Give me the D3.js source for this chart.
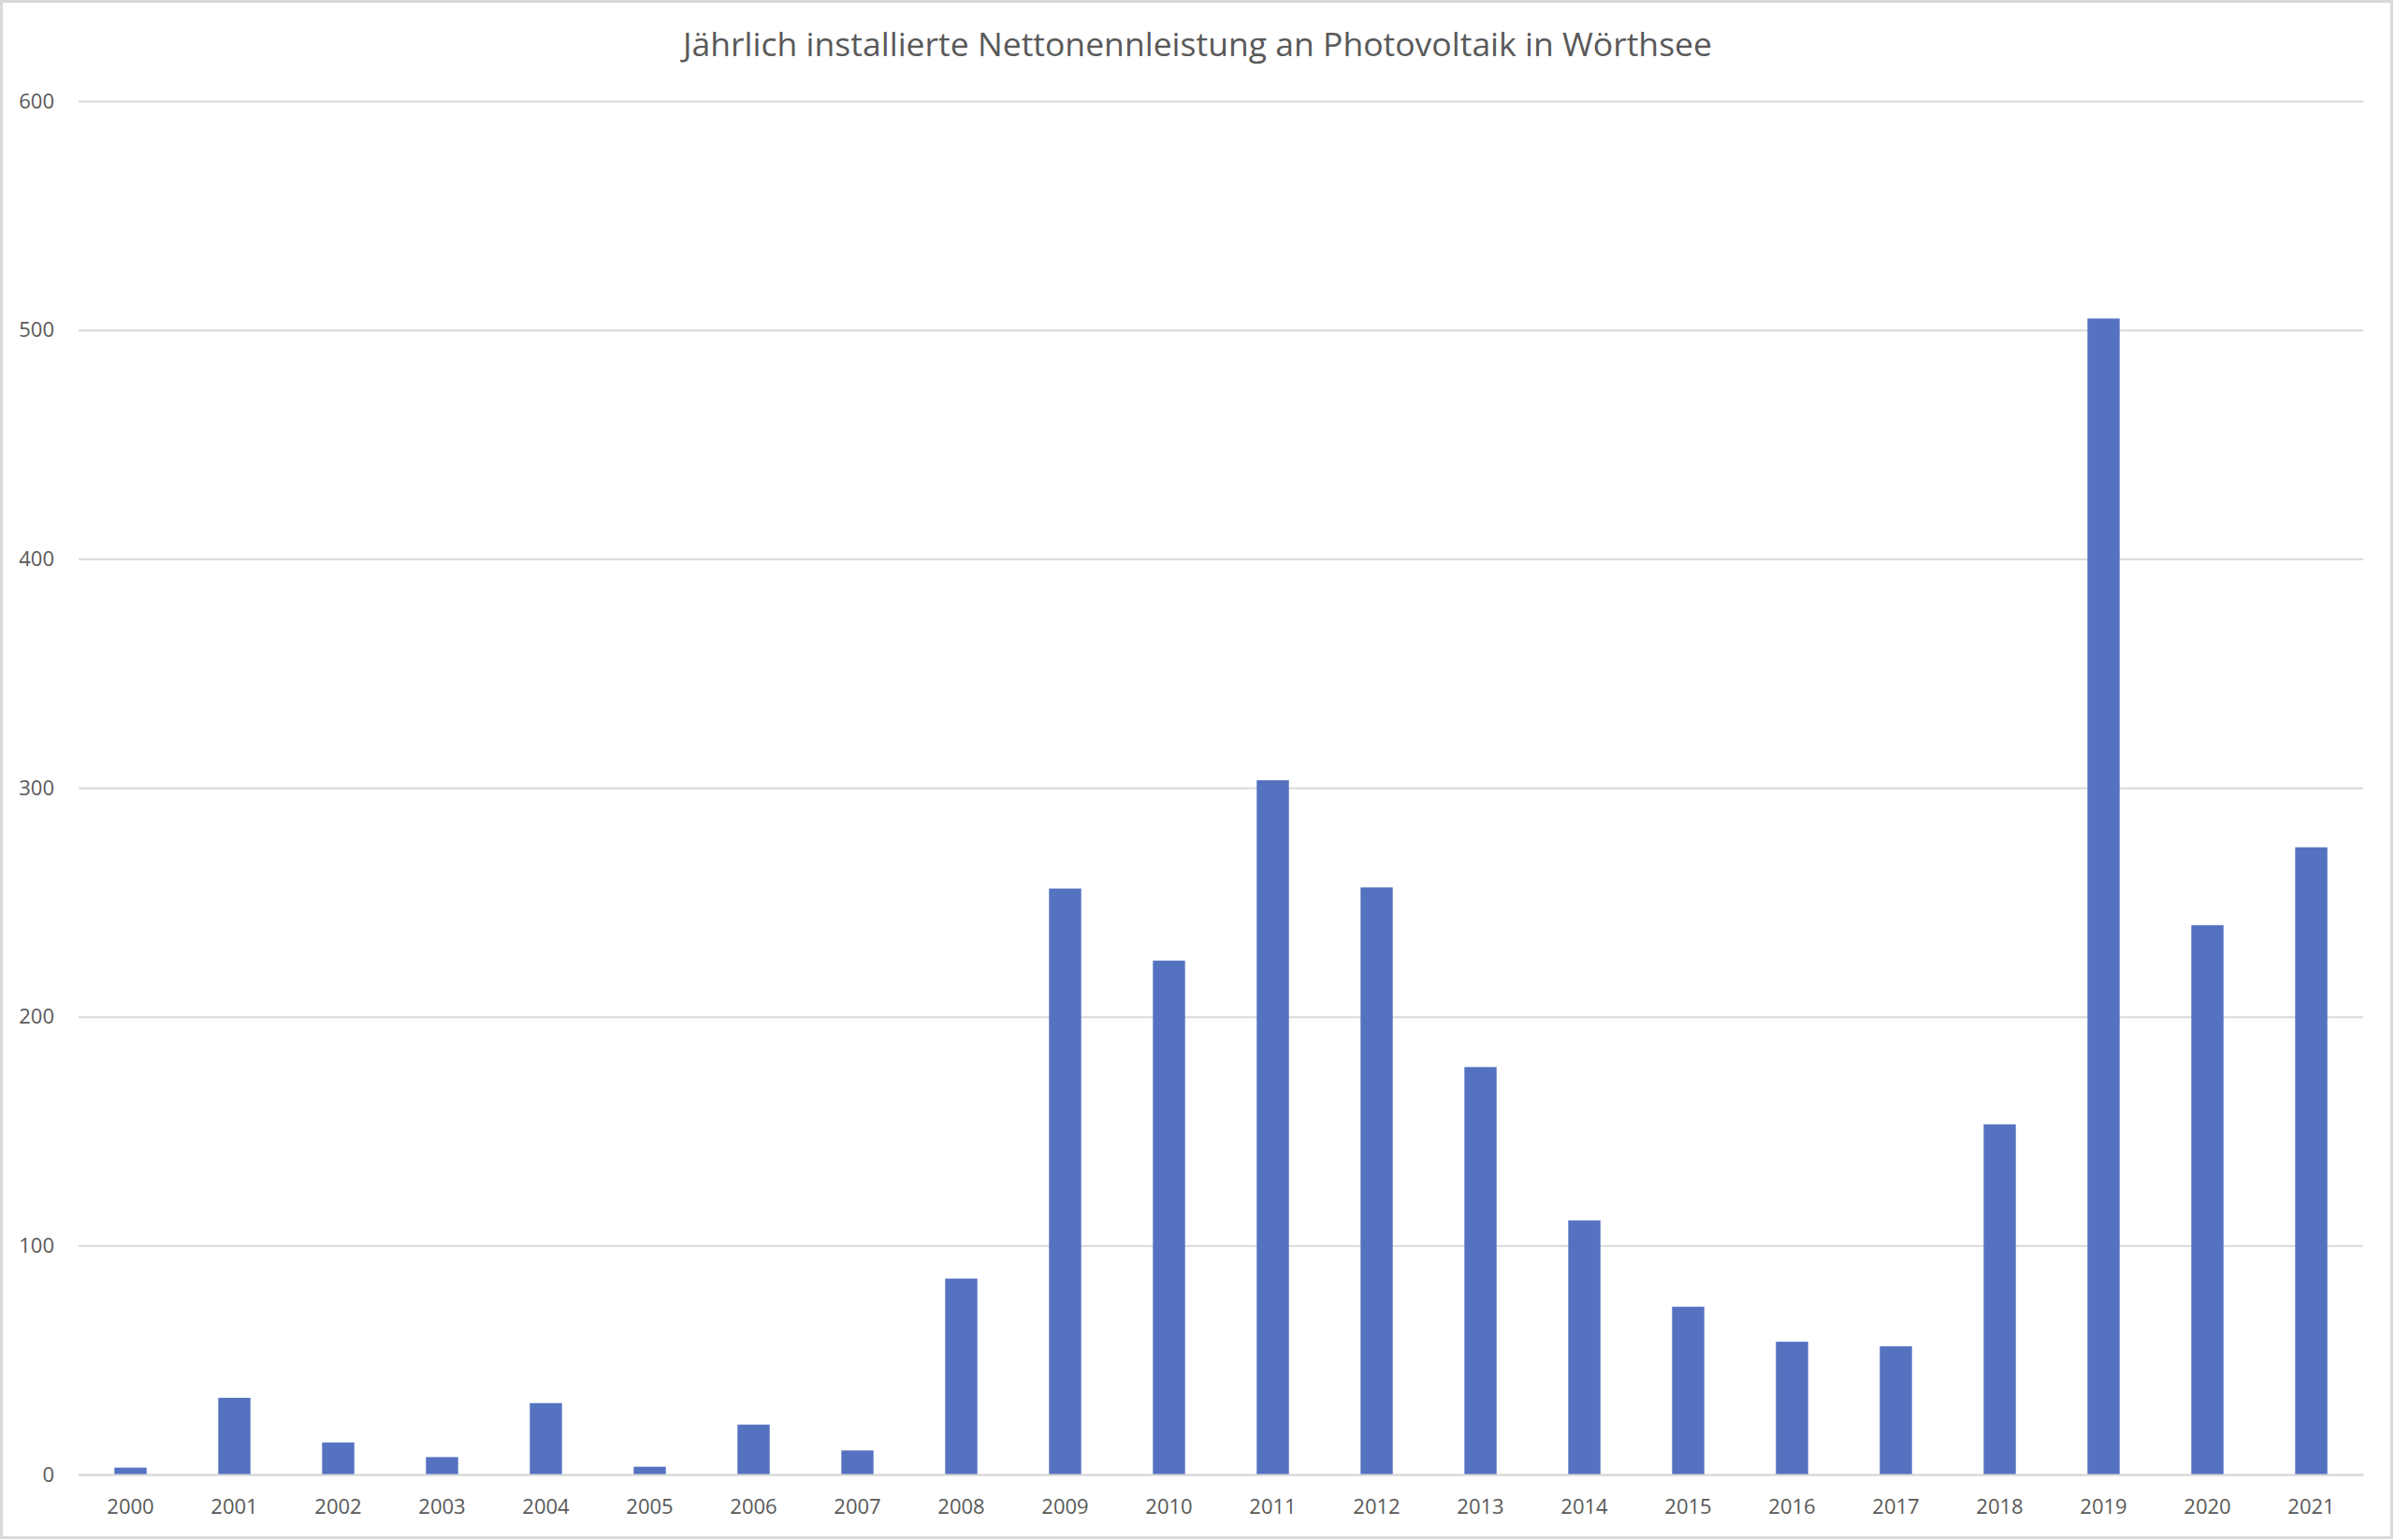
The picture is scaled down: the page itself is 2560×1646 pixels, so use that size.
<!DOCTYPE html>
<html>
<head>
<meta charset="utf-8">
<script src="https://cdn.jsdelivr.net/npm/d3@7"></script>
<style>
  html, body { margin: 0; padding: 0; background: #fff; }
  svg { display: block; }
</style>
</head>
<body>
<svg id="chart" width="2560" height="1646"></svg>
<script>
const title = "Jährlich installierte Nettonennleistung an Photovoltaik in Wörthsee";
const years = ["2000","2001","2002","2003","2004","2005","2006","2007","2008","2009","2010",
               "2011","2012","2013","2014","2015","2016","2017","2018","2019","2020","2021"];
const values = [3, 33.5, 14, 7.6, 31.2, 3.4, 21.8, 10.5, 85.6, 256, 224.5,
                303.3, 256.5, 178, 111, 73.3, 58, 56, 153, 505, 240, 274];
const yTicks = [0, 100, 200, 300, 400, 500, 600];

(function () {
const W = 2560, H = 1646;
const mLeft = 84, mRight = 2526, mTop = 108, mBottom = 1576;
const textColor = "#595959";
const gridColor = "#d9d9d9";
const barColor = "#5572C1";
const font = "'Open Sans', 'Noto Sans', sans-serif";

const svg = d3.select("#chart");

// chart border
svg.append("rect")
  .attr("x", 1.5).attr("y", 1.5)
  .attr("width", W - 5).attr("height", H - 4)
  .attr("fill", "#fff")
  .attr("stroke", gridColor).attr("stroke-width", 3);

const x = d3.scaleBand().domain(years).range([mLeft, mRight])
  .paddingInner(0.69).paddingOuter(0.345);
const y = d3.scaleLinear().domain([0, 600]).range([mBottom, mTop]);

// y axis with gridlines
const yAxis = svg.append("g")
  .attr("transform", `translate(${mLeft},0)`)
  .call(d3.axisLeft(y).tickValues(yTicks).tickSize(-(mRight - mLeft)).tickPadding(26));
yAxis.select(".domain").remove();
yAxis.selectAll(".tick line").attr("stroke", gridColor).attr("stroke-width", 2);
yAxis.selectAll(".tick text")
  .attr("fill", textColor).style("font-family", font).style("font-size", "22px");

// bars
svg.append("g").selectAll("rect")
  .data(years.map((yr, i) => ({ yr, v: values[i] })))
  .join("rect")
  .attr("x", d => x(d.yr))
  .attr("y", d => y(d.v))
  .attr("width", x.bandwidth())
  .attr("height", d => y(0) - y(d.v))
  .attr("fill", barColor);

// x axis
const xAxis = svg.append("g")
  .attr("transform", `translate(0,${mBottom})`)
  .call(d3.axisBottom(x).tickSize(0).tickSizeOuter(0).tickPadding(26));
xAxis.select(".domain").attr("stroke", gridColor).attr("stroke-width", 2);
xAxis.selectAll(".tick text")
  .attr("fill", textColor).style("font-family", font).style("font-size", "22px");

// title
svg.append("text")
  .attr("x", W / 2).attr("y", 60)
  .attr("text-anchor", "middle")
  .attr("fill", textColor)
  .style("font-family", font).style("font-size", "34px")
  .attr("textLength", 1100).attr("lengthAdjust", "spacingAndGlyphs")
  .text(title);
})();
</script>
</body>
</html>
